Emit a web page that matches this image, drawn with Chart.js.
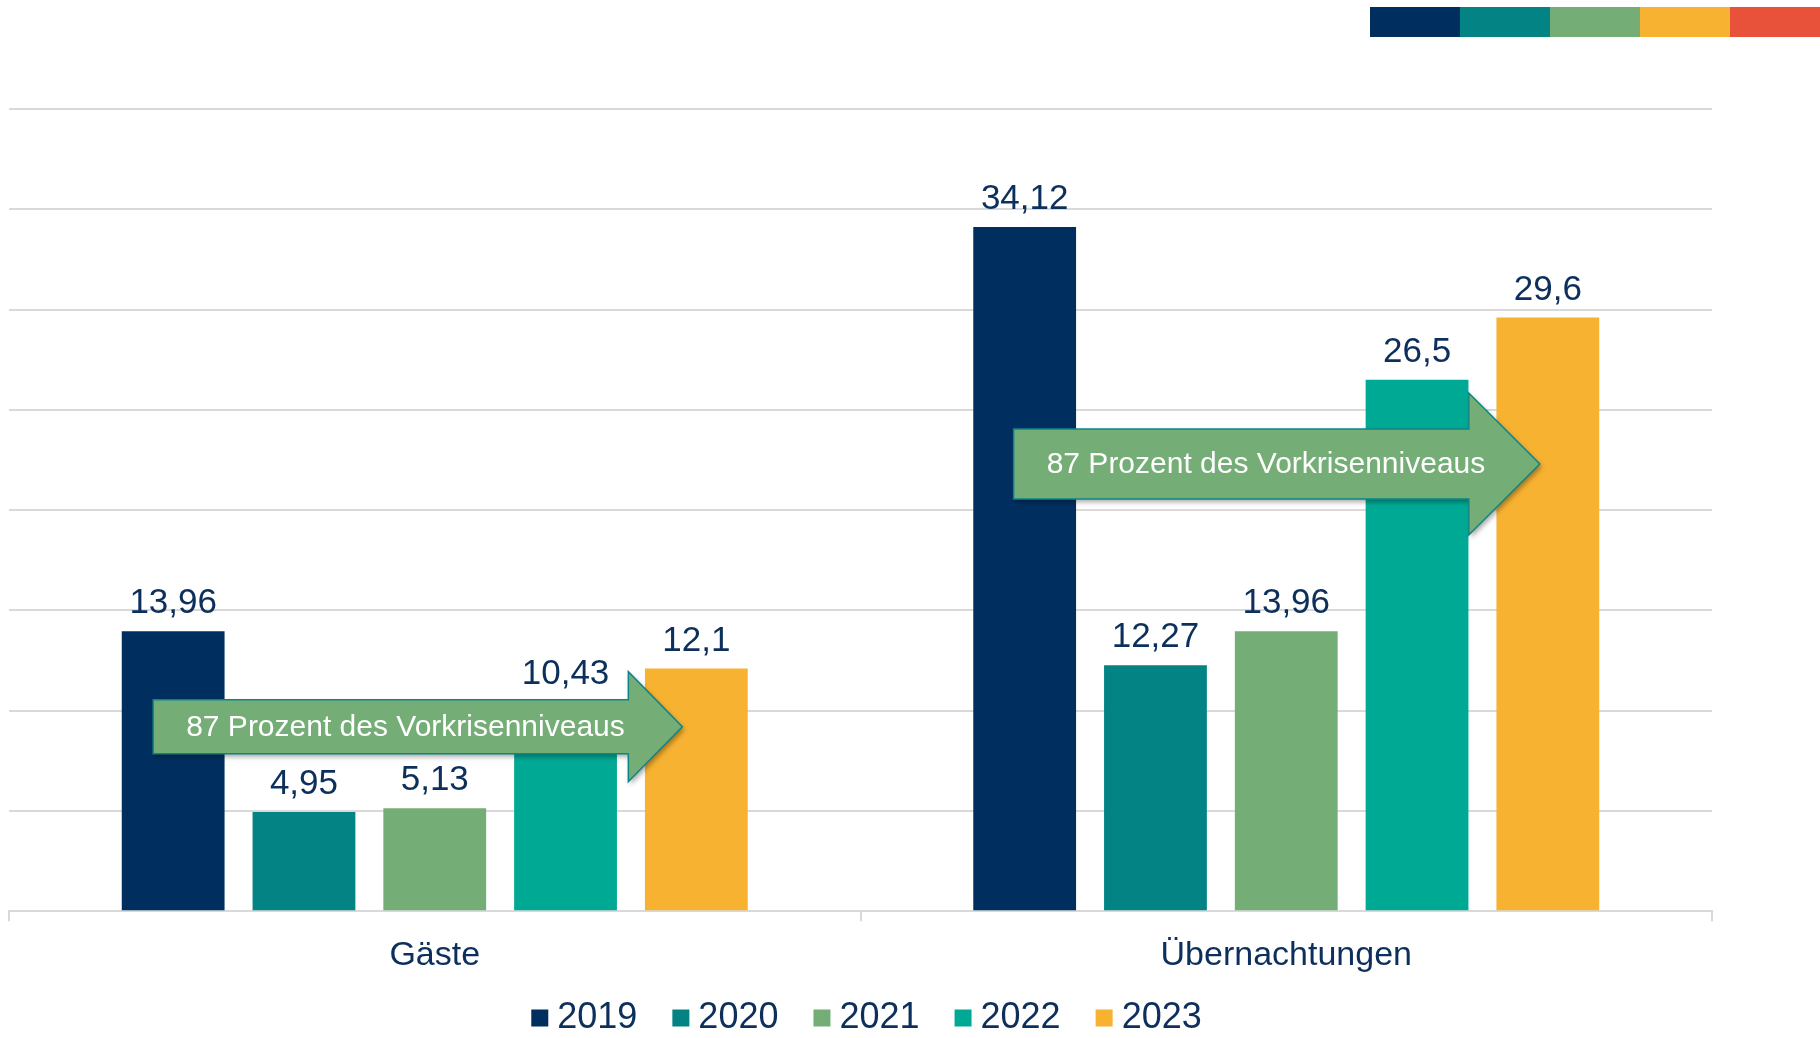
<!DOCTYPE html>
<html lang="de">
<head>
<meta charset="UTF-8">
<title>Gäste und Übernachtungen 2019–2023</title>
<script src="https://cdn.jsdelivr.net/npm/chart.js"></script>
<style>
    * { margin: 0; padding: 0; box-sizing: border-box; }
    body { background: #ffffff; width: 1820px; height: 1038px; overflow: hidden; }
    #chart { display: block; }
</style>
</head>
<body>
<canvas id="chart" width="1820" height="1038"></canvas>
<script>
// Daten (Mio.)
const categories = ['Gäste', 'Übernachtungen'];
const years = ['2019', '2020', '2021', '2022', '2023'];
const values2019 = [13.96, 34.12];
const values2020 = [4.95, 12.27];
const values2021 = [5.13, 13.96];
const values2022 = [10.43, 26.5];
const values2023 = [12.1, 29.6];
const yMin = 0;
const yMax = 40;
const yStep = 5;
const arrowText = '87 Prozent des Vorkrisenniveaus';

const seriesColors = ['#002f5f', '#038383', '#74ae76', '#00a994', '#f7b232'];
const stripColors = ['#002f5f', '#038383', '#74ae76', '#f7b232', '#e9523a'];
const navy = '#0d2f5c';
const gridColor = '#d9d9d9';
const fontFamily = '"Liberation Sans", Arial, sans-serif';

// Pfeile: Lage relativ zu den Balken 2019 und 2023 der Kategorie
const arrows = [
    { category: 0, value: 9.2, body: 27, head: 55, headLen: 54, startOff: -20, tipOff: -14 },
    { category: 1, value: 22.3, body: 35, head: 71, headLen: 71, startOff: -11, tipOff: -8 }
];

const allValues = [values2019, values2020, values2021, values2022, values2023];

// Farbstreifen oben rechts
const stripPlugin = {
    id: 'strip',
    beforeDraw(chart) {
        const ctx = chart.ctx;
        const segW = 90;
        const left = chart.width - segW * stripColors.length;
        ctx.save();
        stripColors.forEach((c, i) => {
            ctx.fillStyle = c;
            ctx.fillRect(left + i * segW, 7, segW, 30);
        });
        ctx.restore();
    }
};

// Werte über den Balken + Pfeile
const labelPlugin = {
    id: 'valueLabels',
    afterDatasetsDraw(chart) {
        const ctx = chart.ctx;
        ctx.save();
        ctx.font = '35px ' + fontFamily;
        ctx.fillStyle = navy;
        ctx.textAlign = 'center';
        ctx.textBaseline = 'alphabetic';
        chart.data.datasets.forEach((ds, i) => {
            chart.getDatasetMeta(i).data.forEach((bar, j) => {
                const txt = String(ds.data[j]).replace('.', ',');
                ctx.fillText(txt, bar.x, bar.y - 18);
            });
        });
        ctx.restore();

        const yScale = chart.scales.y;
        arrows.forEach(a => {
            const first = chart.getDatasetMeta(0).data[a.category];
            const last = chart.getDatasetMeta(4).data[a.category];
            const x0 = first.x + a.startOff;
            const x2 = last.x + a.tipOff;
            const x1 = x2 - a.headLen;
            const yc = yScale.getPixelForValue(a.value);
            ctx.save();
            ctx.beginPath();
            ctx.moveTo(x0, yc - a.body);
            ctx.lineTo(x1, yc - a.body);
            ctx.lineTo(x1, yc - a.head);
            ctx.lineTo(x2, yc);
            ctx.lineTo(x1, yc + a.head);
            ctx.lineTo(x1, yc + a.body);
            ctx.lineTo(x0, yc + a.body);
            ctx.closePath();
            ctx.shadowColor = 'rgba(0,0,0,0.35)';
            ctx.shadowBlur = 5;
            ctx.shadowOffsetX = 2;
            ctx.shadowOffsetY = 3;
            ctx.fillStyle = '#74ae76';
            ctx.fill();
            ctx.shadowColor = 'transparent';
            ctx.lineWidth = 1.5;
            ctx.strokeStyle = '#0e8585';
            ctx.stroke();
            ctx.font = '30px ' + fontFamily;
            ctx.fillStyle = '#ffffff';
            ctx.textAlign = 'left';
            ctx.textBaseline = 'middle';
            ctx.fillText(arrowText, x0 + 33, yc + 1);
            ctx.restore();
        });
    }
};

// Legende unten
const legendPlugin = {
    id: 'bottomLegend',
    afterDraw(chart) {
        const ctx = chart.ctx;
        const box = 17, gap = 9, spacing = 35;
        ctx.save();
        ctx.font = '36px ' + fontFamily;
        const widths = chart.data.datasets.map(ds => box + gap + ctx.measureText(ds.label).width);
        const total = widths.reduce((s, w) => s + w, 0) + spacing * (widths.length - 1);
        const area = chart.chartArea;
        let x = (area.left + area.right) / 2 + 6 - total / 2;
        const y = 1018;
        ctx.textBaseline = 'middle';
        ctx.textAlign = 'left';
        chart.data.datasets.forEach((ds, i) => {
            ctx.fillStyle = ds.backgroundColor;
            ctx.fillRect(x, y - box / 2, box, box);
            ctx.fillStyle = navy;
            ctx.fillText(ds.label, x + box + gap, y);
            x += widths[i] + spacing;
        });
        ctx.restore();
    }
};

new Chart(document.getElementById('chart'), {
    type: 'bar',
    data: {
        labels: categories,
        datasets: years.map((y, i) => ({
            label: y,
            data: allValues[i],
            backgroundColor: seriesColors[i],
            borderWidth: 0,
            categoryPercentage: 0.768,
            barPercentage: 0.786
        }))
    },
    options: {
        responsive: false,
        animation: false,
        layout: { padding: { top: 109, left: 9, right: 108, bottom: 48 } },
        plugins: {
            legend: { display: false },
            tooltip: { enabled: false }
        },
        scales: {
            x: {
                grid: {
                    drawOnChartArea: false,
                    drawTicks: true,
                    tickLength: 10,
                    color: gridColor,
                    lineWidth: 2
                },
                border: { display: true, color: gridColor, width: 2 },
                ticks: {
                    padding: 14,
                    color: navy,
                    font: { size: 34, family: fontFamily }
                }
            },
            y: {
                min: yMin,
                max: yMax,
                ticks: { display: false, stepSize: yStep },
                grid: { drawTicks: false, color: gridColor, lineWidth: 2 },
                border: { display: false }
            }
        }
    },
    plugins: [stripPlugin, labelPlugin, legendPlugin]
});
</script>
</body>
</html>
